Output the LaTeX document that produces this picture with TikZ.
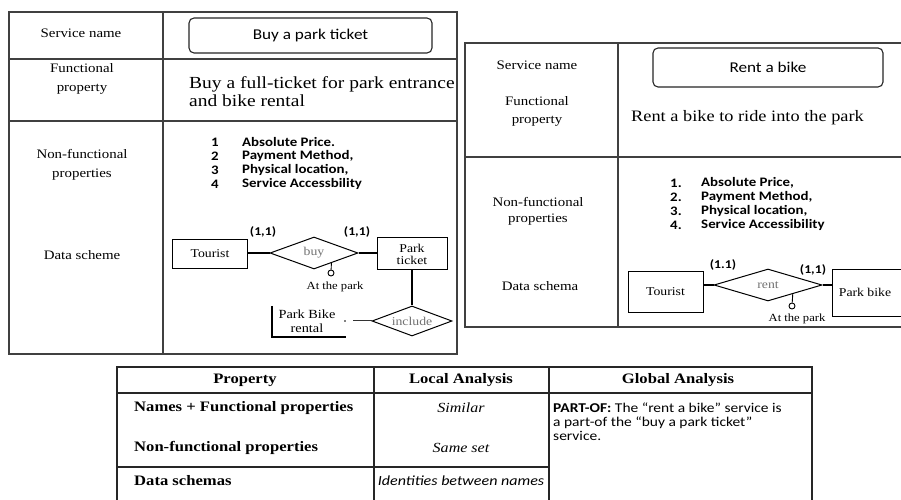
\documentclass[tikz,border=0pt]{standalone}
\usepackage{fontspec}
\setmainfont{Liberation Serif}[FakeStretch=1.15]
\newfontfamily\sansf{Carlito}[FakeStretch=1.15]
\usetikzlibrary{shapes.geometric}
\tikzset{
  panel/.style={draw=black!75, line width=1.1bp},
  tline/.style={draw=black!85, line width=1.4bp},
  svcbox/.style={draw=black!85, rounded corners=5bp, line width=1.1bp, inner sep=0pt, font=\sansf\fontsize{15}{17}\selectfont},
  lbl/.style={align=center, inner sep=0pt, font=\fontsize{13}{16}\selectfont},
  lbltall/.style={align=center, inner sep=0pt, font=\fontsize{13}{18.5}\selectfont},
  desc/.style={align=left, anchor=west, inner sep=0pt},
  litem/.style={anchor=west, inner sep=0pt, font=\sansf\bfseries\fontsize{13}{15}\selectfont},
  ent/.style={draw=black, line width=1bp, inner sep=0pt, align=center, font=\fontsize{12}{13}\selectfont},
  rel/.style={diamond, draw=black, line width=1bp, inner sep=0pt, text=black!55, font=\fontsize{12}{13}\selectfont},
  card/.style={inner sep=0pt, font=\sansf\bfseries\fontsize{12}{14}\selectfont},
  attr/.style={circle, draw=black, line width=0.9bp, minimum size=6bp, inner sep=0pt},
  attrlbl/.style={inner sep=0pt, font=\fontsize{11}{13}\selectfont},
  conn/.style={draw=black, line width=1.3bp},
  thead/.style={inner sep=0pt, font=\bfseries\fontsize{14.5}{17}\selectfont},
  trow/.style={anchor=west, inner sep=0pt, font=\bfseries\fontsize{14.5}{17}\selectfont},
  tital/.style={inner sep=0pt, font=\itshape\fontsize{14}{16}\selectfont},
}
\begin{document}
\begin{tikzpicture}[x=1bp,y=-1bp]
\useasboundingbox (0,0) rectangle (901,500);
\clip (0,0) rectangle (901,500);
\fill[white] (0,0) rectangle (901,500);

% ---------- Left panel ----------
\draw[panel] (9,12) rectangle (457,354);
\draw[panel] (163,12) -- (163,354);
\draw[panel] (9,59) -- (457,59);
\draw[panel] (9,121) -- (457,121);

\node[lbl] (lsn) at (81,33) {Service name};
\node[lbltall] (lfp) at (82,79) {Functional\\property};
\node[lbltall] (lnf) at (82,165) {Non-functional\\properties};
\node[lbl] (lds) at (82,255) {Data scheme};

\node[svcbox, minimum width=243bp, minimum height=35bp] (lsvc) at (310.5,35.5) {Buy a park ticket};
\node[desc, font=\fontsize{17}{17.5}\selectfont] (lfdesc) at (189,91.5) {Buy a full-ticket for park entrance\\and bike rental};

\node[litem] (ln1) at (211,142) {1};
\node[litem] (ln2) at (211,156) {2};
\node[litem] (ln3) at (211,170) {3};
\node[litem] (ln4) at (211,184) {4};
\node[litem] (lt1) at (242,142) {Absolute Price.};
\node[litem] (lt2) at (242,156) {Payment Method,};
\node[litem] (lt3) at (242,170) {Physical location,};
\node[litem] (lt4) at (242,184) {Service Accessbility};

% ER left
\node[ent, minimum width=75bp, minimum height=29bp] (tour1) at (210,254) {Tourist};
\node[rel, minimum width=88bp, minimum height=32bp, aspect=2.75] (buy) at (314,253) {buy};
\node[ent, minimum width=70bp, minimum height=32bp, font=\fontsize{12}{12}\selectfont] (ticket) at (412,254) {Park\\ticket};
\node[rel, minimum width=80bp, minimum height=30bp, aspect=2.67] (incl) at (412,321) {include};
\node[card] (c11a) at (263,232) {(1,1)};
\node[card] (c11b) at (357,232) {(1,1)};
\node[attr] (att1) at (331,273) {};
\node[attrlbl] (atl1) at (335,287) {At the park};
\node[inner sep=0pt, align=center, font=\fontsize{12.5}{14}\selectfont] (pbr) at (307,321) {Park Bike\\rental};
\draw[line width=1.1bp] (272,306) -- (272,337) -- (346,337);
\fill (345,321) circle (0.8bp);
\coordinate (pbrend) at (353,321);

\draw[conn, line width=2bp] (tour1.east |- buy.west) -- (buy.west);
\draw[conn] (buy.east) -- (buy.east -| ticket.west);
\draw[conn] (ticket.south) -- (incl.north);
\draw[draw=black!80, line width=1bp] (pbrend) -- (incl.west);
\draw[draw=black, line width=0.9bp] (buy.-30) -- (att1);

% ---------- Right panel ----------
\draw[panel] (910,43) -- (465,43) -- (465,327) -- (910,327);
\draw[panel] (618,43) -- (618,327);
\draw[panel] (465,157) -- (910,157);

\node[lbl] (rsn) at (537,65) {Service name};
\node[lbltall] (rfp) at (537,111.5) {Functional\\property};
\node[lbl] (rnf) at (538,211) {Non-functional\\properties};
\node[lbl] (rds) at (540,286) {Data schema};

\node[svcbox, minimum width=230bp, minimum height=39bp] (rsvc) at (768,67.5) {Rent a bike};
\node[desc, font=\fontsize{16}{18}\selectfont] (rfdesc) at (631,118) {Rent a bike to ride into the park};

\node[litem] (rn1) at (670,183) {1.};
\node[litem] (rn2) at (670,197) {2.};
\node[litem] (rn3) at (670,211) {3.};
\node[litem] (rn4) at (670,225) {4.};
\node[litem] (rt1) at (701,183) {Absolute Price,};
\node[litem] (rt2) at (701,197) {Payment Method,};
\node[litem] (rt3) at (701,211) {Physical location,};
\node[litem] (rt4) at (701,225) {Service Accessibility};

% ER right
\node[ent, minimum width=75bp, minimum height=40bp] (tour2) at (665.5,292) {Tourist};
\node[rel, minimum width=108bp, minimum height=32bp, aspect=3.37] (rent) at (768,285) {rent};
\node[ent, minimum width=78bp, minimum height=46bp] (bikebox) at (871,293) {};
\node[inner sep=0pt, font=\fontsize{12}{13}\selectfont] (biketxt) at (865,292) {Park bike};
\node[card] (c11c) at (723,265) {(1.1)};
\node[card] (c11d) at (813,270) {(1,1)};
\node[attr] (att2) at (792,306) {};
\node[attrlbl] (atl2) at (797,319) {At the park};

\draw[conn, line width=2bp] (tour2.east |- rent.west) -- (rent.west);
\draw[conn, line width=2bp] (rent.east) -- (rent.east -| bikebox.west);
\draw[draw=black, line width=0.9bp] (rent.-20) -- (att2);

% ---------- Bottom table ----------
\draw[tline] (117,505) -- (117,367) -- (812,367) -- (812,505);
\draw[tline] (117,393) -- (812,393);
\draw[tline] (374,367) -- (374,505);
\draw[tline] (549,367) -- (549,505);
\draw[tline] (117,467) -- (549,467);

\node[thead] (hprop) at (245,380) {Property};
\node[thead] (hloc) at (461,380) {Local Analysis};
\node[thead] (hglob) at (678,380) {Global Analysis};

\node[trow] (r1) at (134,408) {Names + Functional properties};
\node[trow] (r2) at (134,448) {Non-functional properties};
\node[trow] (r3) at (134,481) {Data schemas};

\node[tital] (l1) at (461,408) {Similar};
\node[tital] (l2) at (461,448) {Same set};
\node[tital, font=\sansf\itshape\fontsize{14}{16}\selectfont] (l3) at (461,481) {Identities between names};

\node[desc, font=\sansf\fontsize{13.5}{14}\selectfont] (gtext) at (553,422) {\textbf{PART-OF:} The “rent a bike” service is\\a part-of the “buy a park ticket”\\service.};
\end{tikzpicture}
\end{document}
